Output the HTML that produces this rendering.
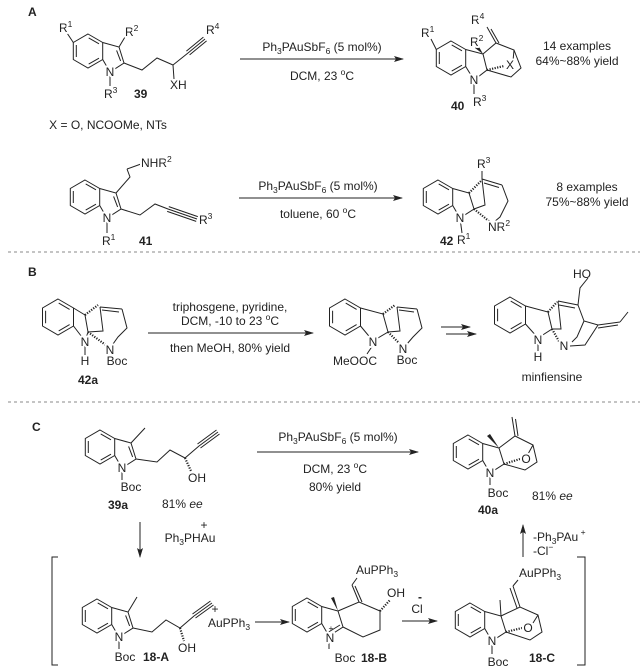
<!DOCTYPE html>
<html><head><meta charset="utf-8"><style>
html,body{margin:0;padding:0;background:#fff;}
svg{display:block;}
text{font-family:"Liberation Sans",Arial,sans-serif;font-size:12px;fill:#222;}
.a{paint-order:stroke;stroke:#fff;stroke-width:4px;stroke-linejoin:round;}
.b{font-weight:bold;}
.s{font-size:8.5px;}
path,line,polyline{stroke:#222;stroke-width:1;fill:none;}
.h{stroke-dasharray:1.2,1.4;stroke-width:2.2;}
.d{stroke:#888;stroke-width:1;stroke-dasharray:3,3;}
</style></head><body>
<svg width="643" height="668" viewBox="0 0 643 668" xmlns="http://www.w3.org/2000/svg">
<defs>
<marker id="ar" markerWidth="10" markerHeight="8" refX="9" refY="4" orient="auto" markerUnits="userSpaceOnUse"><path d="M0,1 L10,4 L0,7 L2,4Z" style="fill:#222;stroke:none"/></marker>
</defs>

<!-- ===== A ===== -->
<text x="28" y="16" class="b">A</text>

<!-- 39 -->
<g transform="translate(88,51)">
<path d="M0,-17 L14.7,-8.5 L14.7,8.5 L0,17 L-14.7,8.5 L-14.7,-8.5Z M0.7,-13.1L11,-7.2 M11,7.2L0.7,13.1 M-11.7,-6L-11.7,6 M14.7,-8.5 L31,-4 L36,12 L22,21 L14.7,8.5 M28.6,-0.6L32.6,9.9"/>
<path d="M-14.7,-8.5 L-21,-18 M31,-4 L37,-14 M22,21 L22,35 M36,12 L54,19 L69,7 L85,14 L86,28 M85,14 L100,2 M100,2 L117,-12 M101.6,3.9 L118.6,-10.1 M98.4,0.1 L115.4,-13.9"/>
<text x="22" y="25" class="a" text-anchor="middle">N</text>
<text x="-29" y="-19" class="a">R<tspan class="s" dy="-5">1</tspan></text>
<text x="37" y="-15" class="a">R<tspan class="s" dy="-5">2</tspan></text>
<text x="16" y="47">R<tspan class="s" dy="-5">3</tspan></text>
<text x="46" y="47" class="b">39</text>
<text x="82" y="38">XH</text>
<text x="118" y="-17">R<tspan class="s" dy="-5">4</tspan></text>
</g>
<text x="108" y="129" text-anchor="middle">X = O, NCOOMe, NTs</text>

<line x1="240" y1="59" x2="403" y2="59" marker-end="url(#ar)"/>
<text x="322" y="51" text-anchor="middle">Ph<tspan class="s" dy="3">3</tspan><tspan dy="-3">PAuSbF</tspan><tspan class="s" dy="3">6</tspan><tspan dy="-3"> (5 mol%)</tspan></text>
<text x="322" y="80" text-anchor="middle">DCM, 23 <tspan class="s" dy="-5">o</tspan><tspan dy="5">C</tspan></text>

<!-- 40 -->
<g transform="translate(451,58)">
<path d="M0,-17 L14.7,-8.5 L14.7,8.5 L0,17 L-14.7,8.5 L-14.7,-8.5Z M0.7,-13.1L11,-7.2 M11,7.2L0.7,13.1 M-11.7,-6L-11.7,6 M14.7,-8.5 L32,-4 L36,12 L23,22 L14.7,8.5"/>
<path d="M-14.7,-8.5 L-20,-19 M32,-4 L45,-15 L63,-8 L70,10 L60,19 L36,12 M45,-15 L36,-31 M48,-15 L40,-29 M23,22 L23,36 M62,3 L63,-8"/>
<polygon points="32,-4 24,-10 27,-13" fill="#222"/>
<path class="h" d="M36,12 L53,8"/>
<text x="59" y="11" class="a" text-anchor="middle">X</text>
<text x="23" y="26" class="a" text-anchor="middle">N</text>
<text x="-30" y="-21" class="a">R<tspan class="s" dy="-5">1</tspan></text>
<text x="19" y="-12" class="a">R<tspan class="s" dy="-5">2</tspan></text>
<text x="20" y="-34" class="a">R<tspan class="s" dy="-5">4</tspan></text>
<text x="22" y="48">R<tspan class="s" dy="-5">3</tspan></text>
<text x="0" y="52" class="b">40</text>
</g>
<text x="577" y="50" text-anchor="middle">14 examples</text>
<text x="577" y="65" text-anchor="middle">64%~88% yield</text>

<!-- 41 -->
<g transform="translate(85,197)">
<path d="M0,-17 L14.7,-8.5 L14.7,8.5 L0,17 L-14.7,8.5 L-14.7,-8.5Z M0.7,-13.1L11,-7.2 M11,7.2L0.7,13.1 M-11.7,-6L-11.7,6 M14.7,-8.5 L31,-4 L36,12 L22,21 L14.7,8.5 M28.6,-0.6L32.6,9.9"/>
<path d="M31,-4 L45,-20 L42,-28 M36,12 L55,18 L70,7 L83,12 M83,12 L112,22 M82.2,14.4 L111.2,24.4 M83.8,9.6 L112.8,19.6 M22,21 L22,36 M42,-28 L56,-33"/>
<text x="22" y="25" class="a" text-anchor="middle">N</text>
<text x="56" y="-30" class="a">NHR<tspan class="s" dy="-5">2</tspan></text>
<text x="114" y="27">R<tspan class="s" dy="-5">3</tspan></text>
<text x="17" y="48">R<tspan class="s" dy="-5">1</tspan></text>
<text x="54" y="48" class="b">41</text>
</g>

<line x1="239" y1="198" x2="402" y2="198" marker-end="url(#ar)"/>
<text x="318" y="190" text-anchor="middle">Ph<tspan class="s" dy="3">3</tspan><tspan dy="-3">PAuSbF</tspan><tspan class="s" dy="3">6</tspan><tspan dy="-3"> (5 mol%)</tspan></text>
<text x="318" y="218" text-anchor="middle">toluene, 60 <tspan class="s" dy="-5">o</tspan><tspan dy="5">C</tspan></text>

<!-- 42 -->
<g transform="translate(438,197)">
<path d="M0,-17 L14.7,-8.5 L14.7,8.5 L0,17 L-14.7,8.5 L-14.7,-8.5Z M0.7,-13.1L11,-7.2 M11,7.2L0.7,13.1 M-11.7,-6L-11.7,6 M14.7,-8.5 L31,-4 L36,12 L22,21 L14.7,8.5"/>
<path d="M44,-18 L64,-12 M46,-14 L61,-9.5 M64,-12 L70,4 L62,20 L56,25 M44,-18 L47,8 L36,12 M44,-18 L44,-26 M22,21 L24,36"/>
<path class="h" d="M31,-4 L43,-16 M36,12 L52,25"/>
<text x="22" y="25" class="a" text-anchor="middle">N</text>
<text x="39" y="-29">R<tspan class="s" dy="-5">3</tspan></text>
<text x="50" y="34" class="a">NR<tspan class="s" dy="-5">2</tspan></text>
<text x="19" y="47">R<tspan class="s" dy="-5">1</tspan></text>
<text x="2" y="48" class="b">42</text>
</g>
<text x="587" y="191" text-anchor="middle">8 examples</text>
<text x="587" y="206" text-anchor="middle">75%~88% yield</text>

<line x1="8" y1="252" x2="640" y2="252" class="d"/>

<!-- ===== B ===== -->
<text x="28" y="276" class="b">B</text>
<g transform="translate(58,317)">
<path d="M0,-18 L15.5,-9 L15.5,9 L0,18 L-15.5,9 L-15.5,-9Z M0.7,-13.9L11.6,-7.6 M11.6,7.6L0.7,13.9 M-12.4,-6.3L-12.4,6.3 M15.5,-9 L27,-2 L30,15 L27,24 L15.5,9"/>
<path d="M42,-10 L64,-8 M44,-7 L61,-5 M64,-8 L69,11 L60,20 L55,27 M42,-10 L45,14 L30,15 M27,28 L27,38"/>
<path class="h" d="M27,-2 L40,-12 M30,15 L49,29"/>
<text x="27" y="29" class="a" text-anchor="middle">N</text>
<text x="27" y="48" text-anchor="middle">H</text>
<text x="52" y="37" class="a" text-anchor="middle">N</text>
<text x="59" y="48" text-anchor="middle">Boc</text>
<text x="30" y="67" class="b" text-anchor="middle">42a</text>
</g>
<line x1="148" y1="333" x2="313" y2="333" marker-end="url(#ar)"/>
<text x="230" y="311" text-anchor="middle">triphosgene, pyridine,</text>
<text x="230" y="325" text-anchor="middle">DCM, -10 to 23 <tspan class="s" dy="-5">o</tspan><tspan dy="5">C</tspan></text>
<text x="230" y="352" text-anchor="middle">then MeOH, 80% yield</text>

<g transform="translate(345,317)">
<path d="M0,-18 L15.5,-9 L15.5,9 L0,18 L-15.5,9 L-15.5,-9Z M0.7,-13.9L11.6,-7.6 M11.6,7.6L0.7,13.9 M-12.4,-6.3L-12.4,6.3 M15.5,-9 L38,-3 L43,15 L28,24 L15.5,9"/>
<path d="M52,-10 L72,-8 M54,-7 L69,-5 M72,-8 L77,11 L68,20 L62,27 M52,-10 L55,14 L43,15 M28,28 L22,37"/>
<path class="h" d="M38,-3 L50,-12 M43,15 L56,28"/>
<text x="28" y="29" class="a" text-anchor="middle">N</text>
<text x="10" y="48" text-anchor="middle">MeOOC</text>
<text x="58" y="36" class="a" text-anchor="middle">N</text>
<text x="62" y="47" text-anchor="middle">Boc</text>
</g>
<line x1="441" y1="327" x2="470" y2="327" marker-end="url(#ar)"/>
<line x1="446" y1="334" x2="476" y2="334" marker-end="url(#ar)"/>

<g transform="translate(510,315)">
<path d="M0,-18 L15.5,-9 L15.5,9 L0,18 L-15.5,9 L-15.5,-9Z M0.7,-13.9L11.6,-7.6 M11.6,7.6L0.7,13.9 M-12.4,-6.3L-12.4,6.3 M15.5,-9 L38,-3 L42,14 L28,23 L15.5,9"/>
<path d="M48,-14 L68,-10 M49,-10 L65,-7 M68,-10 L70,-27 L78,-37 M68,-10 L74,6 L88,10 L110,7 M88,13 L108,10 M110,7 L118,-3 M48,-14 L51,14 L42,14 M74,6 L67,22 L62,27 M60,31 L75,30 L88,10 M28,27 L28,36"/>
<path class="h" d="M38,-3 L47,-13 M42,14 L50,28"/>
<text x="28" y="29" class="a" text-anchor="middle">N</text>
<text x="28" y="46" text-anchor="middle">H</text>
<text x="54" y="35" class="a" text-anchor="middle">N</text>
<text x="72" y="-37" text-anchor="middle">HO</text>
<text x="42" y="66" text-anchor="middle">minfiensine</text>
</g>

<line x1="8" y1="402" x2="640" y2="402" class="d"/>

<!-- ===== C ===== -->
<text x="32" y="431" class="b">C</text>
<g transform="translate(100,447)">
<path d="M0,-17 L14.7,-8.5 L14.7,8.5 L0,17 L-14.7,8.5 L-14.7,-8.5Z M0.7,-13.1L11,-7.2 M11,7.2L0.7,13.1 M-11.7,-6L-11.7,6 M14.7,-8.5 L31,-4 L36,12 L22,21 L14.7,8.5 M28.6,-0.6L32.6,9.9"/>
<path d="M31,-4 L45,-19 M36,12 L57,15 L70,3 L85,11 L99,-1 M99,-1 L118,-15 M100.5,1 L119.5,-13 M97.5,-3 L116.5,-17 M22,25 L22,33"/>
<path class="h" d="M85,11 L91,24"/>
<text x="22" y="25" class="a" text-anchor="middle">N</text>
<text x="31" y="44" text-anchor="middle">Boc</text>
<text x="97" y="35" text-anchor="middle">OH</text>
<text x="18" y="62" class="b" text-anchor="middle">39a</text>
<text x="62" y="61">81% <tspan font-style="italic">ee</tspan></text>
</g>
<line x1="257" y1="452" x2="418" y2="452" marker-end="url(#ar)"/>
<text x="338" y="441" text-anchor="middle">Ph<tspan class="s" dy="3">3</tspan><tspan dy="-3">PAuSbF</tspan><tspan class="s" dy="3">6</tspan><tspan dy="-3"> (5 mol%)</tspan></text>
<text x="335" y="473" text-anchor="middle">DCM, 23 <tspan class="s" dy="-5">o</tspan><tspan dy="5">C</tspan></text>
<text x="335" y="491" text-anchor="middle">80% yield</text>

<g transform="translate(468,452)">
<path d="M0,-17 L14.7,-8.5 L14.7,8.5 L0,17 L-14.7,8.5 L-14.7,-8.5Z M0.7,-13.1L11,-7.2 M11,7.2L0.7,13.1 M-11.7,-6L-11.7,6 M14.7,-8.5 L31,-4 L36,12 L22,21 L14.7,8.5"/>
<path d="M31,-4 L47,-16 L65,-7 L69,10 L57,18 L36,12 M47,-16 L44,-35 M50,-16 L47.5,-33 M22,25 L22,33 M60,2 L65,-7"/>
<polygon points="31,-4 19,-16 22,-18" fill="#222"/>
<path class="h" d="M36,12 L52,7"/>
<text x="58" y="11" class="a" text-anchor="middle">O</text>
<text x="22" y="25" class="a" text-anchor="middle">N</text>
<text x="30" y="45" text-anchor="middle">Boc</text>
<text x="20" y="62" class="b" text-anchor="middle">40a</text>
<text x="64" y="48">81% <tspan font-style="italic">ee</tspan></text>
</g>

<line x1="140" y1="522" x2="140" y2="557" marker-end="url(#ar)"/>
<text x="204" y="529" text-anchor="middle">+</text>
<text x="190" y="542" text-anchor="middle">Ph<tspan class="s" dy="3">3</tspan><tspan dy="-3">PHAu</tspan></text>
<line x1="523" y1="557" x2="523" y2="525" marker-end="url(#ar)"/>
<text x="533" y="541">-Ph<tspan class="s" dy="3">3</tspan><tspan dy="-3">PAu</tspan><tspan class="s" dy="-6"> +</tspan></text>
<text x="533" y="555">-Cl<tspan class="s" dy="-5">−</tspan></text>

<path d="M58,557 L52,557 L52,665 L58,665"/>
<path d="M577,557 L585,557 L585,665 L577,665"/>

<!-- 18-A -->
<g transform="translate(97,616)">
<path d="M0,-17 L14.7,-8.5 L14.7,8.5 L0,17 L-14.7,8.5 L-14.7,-8.5Z M0.7,-13.1L11,-7.2 M11,7.2L0.7,13.1 M-11.7,-6L-11.7,6 M14.7,-8.5 L31,-4 L36,12 L22,21 L14.7,8.5 M28.6,-0.6L32.6,9.9"/>
<path d="M31,-4 L40,-19 M36,12 L55,16 L69,4 L83,12 L97,0 M97,0 L115,-13 M98.5,2 L116.5,-11 M95.5,-2 L113.5,-15 M22,25 L22,33"/>
<path class="h" d="M83,12 L87,25"/>
<text x="22" y="25" class="a" text-anchor="middle">N</text>
<text x="28" y="45" text-anchor="middle">Boc</text>
<text x="46" y="45" class="b">18-A</text>
<text x="90" y="36" text-anchor="middle">OH</text>
<text x="118" y="-3" text-anchor="middle">+</text>
<text x="111" y="11">AuPPh<tspan class="s" dy="3">3</tspan></text>
</g>
<line x1="255" y1="622" x2="289" y2="622" marker-end="url(#ar)"/>

<!-- 18-B -->
<g transform="translate(307,615)">
<path d="M0,-17 L14.7,-8.5 L14.7,8.5 L0,17 L-14.7,8.5 L-14.7,-8.5Z M0.7,-13.1L11,-7.2 M11,7.2L0.7,13.1 M-11.7,-6L-11.7,6 M14.7,-8.5 L31,-4 L36,12 L22,21 L14.7,8.5 M33,10 L20,18"/>
<path d="M31,-4 L52,-13 L73,-4 L73,15 L56,22 L36,12 M52,-13 L45,-30 M55,-13 L48,-29 M45,-30 L50,-37 M22,25 L22,34"/>
<polygon points="31,-4 24,-17 27,-18" fill="#222"/>
<path class="h" d="M73,-4 L83,-15"/>
<text x="23" y="27" class="a" text-anchor="middle">N</text>
<text x="24" y="16" class="s" text-anchor="middle">+</text>
<text x="38" y="47" text-anchor="middle">Boc</text>
<text x="54" y="47" class="b">18-B</text>
<text x="49" y="-41">AuPPh<tspan class="s" dy="3">3</tspan></text>
<text x="80" y="-18">OH</text>
</g>
<text x="417" y="613" text-anchor="middle">Cl</text>
<text x="420" y="601" text-anchor="middle" class="b">-</text>
<line x1="402" y1="621" x2="437" y2="621" marker-end="url(#ar)"/>

<!-- 18-C -->
<g transform="translate(470,620)">
<path d="M0,-17 L14.7,-8.5 L14.7,8.5 L0,17 L-14.7,8.5 L-14.7,-8.5Z M0.7,-13.1L11,-7.2 M11,7.2L0.7,13.1 M-11.7,-6L-11.7,6 M14.7,-8.5 L31,-4 L36,12 L22,21 L14.7,8.5"/>
<path d="M31,-4 L50,-13 L68,-5 L72,12 L60,20 L36,12 M50,-13 L43,-34 M47,-12 L40,-32 M43,-34 L48,-40 M22,25 L22,34 M63,3 L68,-5 M31,-4 L30,-20"/>
<path class="h" d="M36,12 L52,8"/>
<text x="58" y="12" class="a" text-anchor="middle">O</text>
<text x="22" y="25" class="a" text-anchor="middle">N</text>
<text x="28" y="46" text-anchor="middle">Boc</text>
<text x="59" y="42" class="b">18-C</text>
<text x="49" y="-43">AuPPh<tspan class="s" dy="3">3</tspan></text>
</g>
</svg>
</body></html>
